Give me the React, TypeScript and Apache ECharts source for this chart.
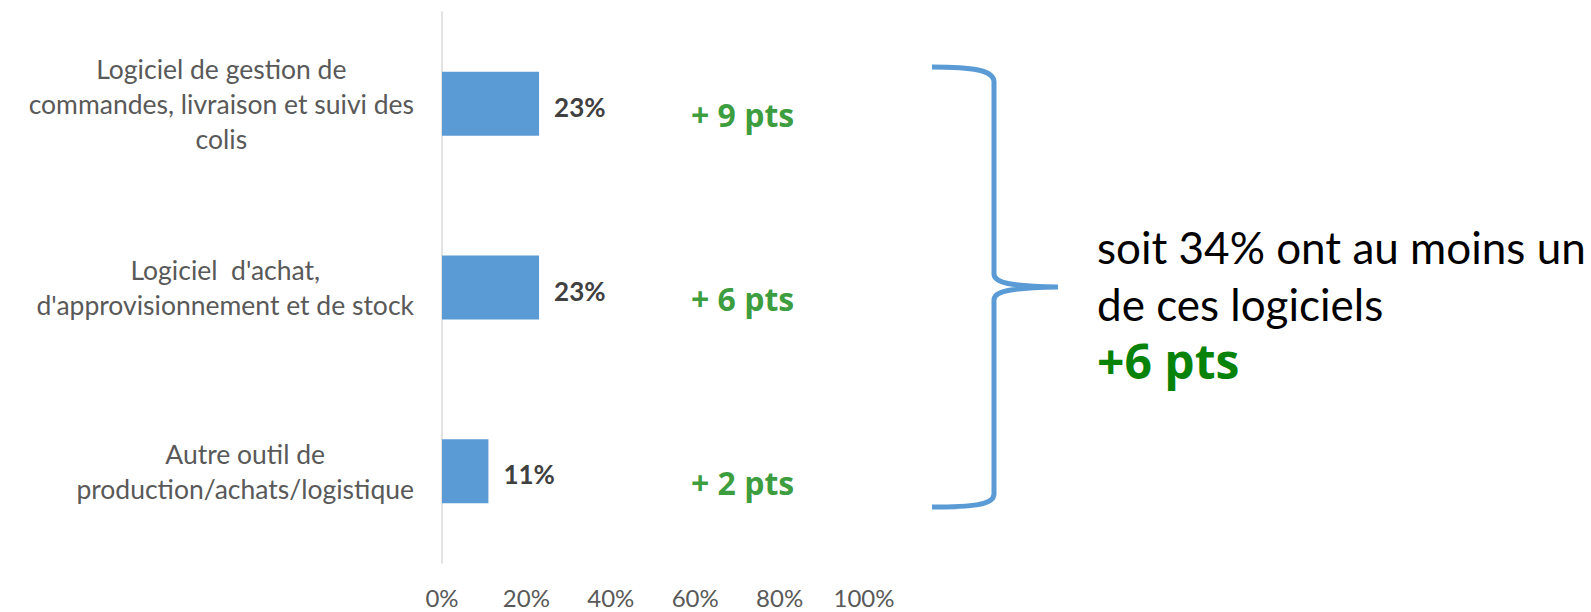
import React, { useEffect, useRef } from 'react';
import * as echarts from 'echarts';

const categories = [
  'Logiciel de gestion de\ncommandes, livraison et suivi des\ncolis',
  "Logiciel  d'achat,\nd'approvisionnement et de stock",
  'Autre outil de\nproduction/achats/logistique',
];
const values = [0.23, 0.23, 0.11];
const deltas = [9, 6, 2];
const summaryLines = ['soit 34% ont au moins un', 'de ces logiciels'];
const summaryDelta = '+6 pts';

const DELTA_X = 0.59;
const BLUE = '#5B9BD5';
const GREEN = '#07830A';

const BRACE_D =
  'M 932 67 C 972 67 994 70 994 82 L 994 274 C 994 283 1010 286 1058 287 C 1010 288 994 291 994 300 L 994 494 C 994 505 972 507 932 507';

let registered = false;

export default function App() {
  const ref = useRef<HTMLDivElement>(null);
  useEffect(() => {
    if (!registered) {
      echarts.graphic.registerShape('brace', echarts.graphic.extendPath(BRACE_D, {}) as any);
      registered = true;
    }
    const chart = echarts.init(ref.current!, null, { renderer: 'svg' });
    chart.setOption({
      animation: false,
      backgroundColor: '#ffffff',
      grid: { left: 442, width: 422, top: 12, height: 551, containLabel: false },
      xAxis: {
        type: 'value',
        min: 0,
        max: 1,
        interval: 0.2,
        axisLine: { show: false },
        axisTick: { show: false },
        splitLine: { show: false },
        axisLabel: {
          margin: 25,
          color: '#595959',
          fontSize: 24,
          lineHeight: 18,
          fontFamily: 'Lato',
          formatter: (v: number) => `${Math.round(v * 100)}%`,
        },
      },
      yAxis: {
        type: 'category',
        data: categories,
        inverse: true,
        axisLine: { show: true, lineStyle: { color: '#D9D9D9', width: 1.5 } },
        axisTick: { show: false },
        axisLabel: {
          margin: 28,
          formatter: (v: string) => v.split('\n').map((l) => `{c|${l}}`).join('\n'),
          rich: {
            c: {
              align: 'center',
              fontSize: 26.5,
              fontFamily: 'Lato',
              color: '#595959',
              lineHeight: 35,
            },
          },
        },
      },
      series: [
        {
          type: 'bar',
          data: values,
          barWidth: 64,
          itemStyle: { color: BLUE },
          label: {
            show: true,
            position: 'right',
            distance: 15,
            offset: [0, 3],
            color: '#404040',
            fontWeight: 'bold',
            fontSize: 26,
            fontFamily: 'Lato',
            formatter: (p: any) => `${Math.round(p.value * 100)}%`,
          },
        },
        {
          type: 'scatter',
          data: deltas.map((d, i) => [DELTA_X, i]),
          symbolSize: 0,
          silent: true,
          label: {
            show: true,
            position: 'right',
            distance: 0,
            offset: [0, 11],
            color: GREEN,
            fontWeight: 'bold',
            fontSize: 32,
            fontFamily: 'Open Sans',
            formatter: (p: any) => `+ ${deltas[p.dataIndex]} pts`,
          },
        },
      ],
      graphic: [
        {
          type: 'brace',
          x: 0,
          y: 0,
          style: { fill: 'none', stroke: BLUE, lineWidth: 5 },
        },
        {
          type: 'text',
          x: 1097,
          y: 247,
          style: {
            text: summaryLines[0],
            font: '44px Lato',
            fill: '#000000',
            textVerticalAlign: 'middle',
          },
        },
        {
          type: 'text',
          x: 1097,
          y: 304,
          style: {
            text: summaryLines[1],
            font: '44px Lato',
            fill: '#000000',
            textVerticalAlign: 'middle',
          },
        },
        {
          type: 'text',
          x: 1097,
          y: 360,
          style: {
            text: summaryDelta,
            font: 'bold 48px "Open Sans"',
            fill: GREEN,
            textVerticalAlign: 'middle',
          },
        },
      ],
    });
    return () => chart.dispose();
  }, []);
  return (
    <div
      ref={ref}
      style={{ position: 'fixed', left: 0, top: 0, width: 1591, height: 612 }}
    />
  );
}
